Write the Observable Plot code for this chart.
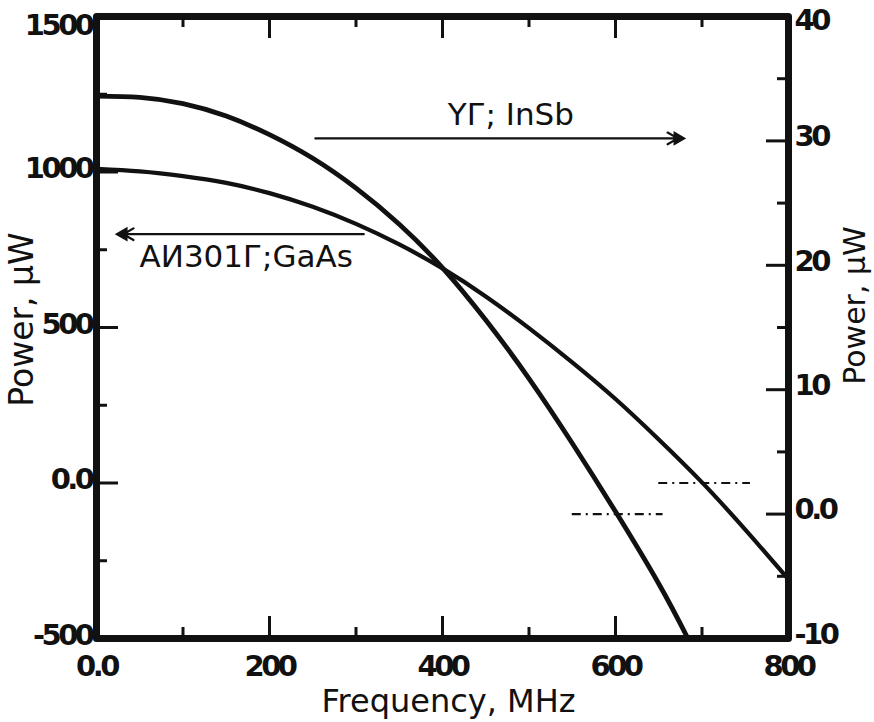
<!DOCTYPE html>
<html><head><meta charset="utf-8">
<script src="https://cdn.jsdelivr.net/npm/d3@7"></script>
<script src="https://cdn.jsdelivr.net/npm/@observablehq/plot@0.6"></script>
<style>
html,body{margin:0;padding:0;background:#fff;}
#chart svg{display:block;}
g[aria-label$="tick label"]{letter-spacing:-3.5px;}
</style></head><body><div id="chart"></div>
<script>
// GaAs (АИ301Г) curve — left axis, µW
const freqGaAs  = [0, 50, 100, 150, 200, 250, 300, 350, 400, 450, 500, 550, 600, 650, 700, 750, 800];
const powerGaAs = [1010, 1002, 987, 965, 932, 888, 833, 767, 690, 600, 498, 388, 270, 140, 2, -150, -310];
// InSb (YГ) curve — right axis, µW
const freqInSb  = [0, 50, 100, 150, 200, 250, 300, 350, 400, 450, 500, 550, 600, 650, 683];
const powerInSb = [33.6, 33.5, 33.0, 32.0, 30.5, 28.6, 26.2, 23.3, 19.8, 15.6, 10.9, 5.7, 0.2, -5.6, -9.9];

// axes
const xTicks = [0, 200, 400, 600, 800];
const xTickLabels = ["0.0", "200", "400", "600", "800"];
const xMinorTicks = [100, 300, 500, 700];
const leftTicks = [-500, 0, 500, 1000, 1500];
const leftTickLabels = ["-500", "0.0", "500", "1000", "1500"];
const leftMinorTicks = [-250, 250, 750, 1250];
const rightTicks = [-10, 0, 10, 20, 30, 40];
const rightTickLabels = ["-10", "0.0", "10", "20", "30", "40"];
const rightMinorTicks = [-5, 5, 15, 25, 35];
const axisTitleY = "Power, µW";
const axisTitleX = "Frequency, MHz";

// zero reference lines (dash-dot): axis, level, from MHz, to MHz
const refAxis  = ["left", "right"];
const refLevel = [0, 0];
const refFrom  = [650, 550];
const refTo    = [756, 655];

// annotations
const annoText  = ["YГ; InSb", "АИ301Г;GaAs"];
const annoAxis  = ["right", "left"];
const annoX     = [479, 173];
const annoY     = [32.1, 728];
const arrowAxis = ["right", "left"];
const arrowFrom = [253, 309];
const arrowTo   = [672, 31];
const arrowLevel= [30.2, 800];

// right-axis (-10..40) to left-axis (-500..1500) units
const rightToLeft = r => (r + 10) * 40 - 500;
const toLeft = (axis, v) => axis === "right" ? rightToLeft(v) : v;

const gaas = freqGaAs.map((f, i) => ({f, p: powerGaAs[i]}));
const insb = freqInSb.map((f, i) => ({f, p: rightToLeft(powerInSb[i])}));
const refs = refAxis.map((a, i) => ({y: toLeft(a, refLevel[i]), x1: refFrom[i], x2: refTo[i]}));
const annos = annoText.map((t, i) => ({t, x: annoX[i], y: toLeft(annoAxis[i], annoY[i])}));
const arrows = arrowAxis.map((a, i) => ({x1: arrowFrom[i], x2: arrowTo[i], y: toLeft(a, arrowLevel[i]), dir: arrowTo[i] > arrowFrom[i] ? 90 : -90}));
const rightTicksL = rightTicks.map(rightToLeft);
const rightMinorL = rightMinorTicks.map(rightToLeft);
const topLeft = leftTicks.slice(-1), restLeft = leftTicks.slice(0, -1);
const topRight = rightTicksL.slice(-1), restRight = rightTicksL.slice(0, -1);

const W = 874, H = 722, mL = 96, mR = 86, mT = 16, mB = 84;
const pw = W - mL - mR, ph = H - mT - mB;
const major = 22, minor = 11;
const ink = "#111";
const tickFont = {fontSize: 29, fontWeight: "bold", fontFamily: "'DejaVu Sans', sans-serif"};
const fmtLeft = d => leftTickLabels[leftTicks.indexOf(d)];
const fmtRight = d => rightTickLabels[rightTicksL.indexOf(d)];

const chart = Plot.plot({
  width: W, height: H,
  marginLeft: mL, marginRight: mR, marginTop: mT, marginBottom: mB,
  x: {domain: [0, 800]},
  y: {domain: [-500, 1500]},
  style: {fontFamily: "'DejaVu Sans', sans-serif", color: ink, background: "#fff"},
  marks: [
    Plot.line(gaas, {x: "f", y: "p", curve: "natural", stroke: ink, strokeWidth: 4.2}),
    Plot.line(insb, {x: "f", y: "p", curve: "natural", stroke: ink, strokeWidth: 4.8}),
    Plot.ruleY(refs, {y: "y", x1: "x1", x2: "x2", stroke: ink, strokeWidth: 2.2, strokeDasharray: "9,5,2,5"}),
    Plot.arrow(arrows, {x1: "x1", x2: "x2", y1: "y", y2: "y", stroke: ink, strokeWidth: 2.2, headLength: 8}),
    Plot.dot(arrows, {x: "x2", y: "y", symbol: "triangle", rotate: "dir", r: 4.5, fill: ink, stroke: ink}),
    Plot.text(annos, {x: "x", y: "y", text: "t", fontSize: 31, fill: ink}),
    // inward ticks
    Plot.tickY(leftTicks, {y: d => d, insetRight: pw - major, stroke: ink, strokeWidth: 3}),
    Plot.tickY(leftMinorTicks, {y: d => d, insetRight: pw - minor, stroke: ink, strokeWidth: 3}),
    Plot.tickY(rightTicksL, {y: d => d, insetLeft: pw - major, stroke: ink, strokeWidth: 3}),
    Plot.tickY(rightMinorL, {y: d => d, insetLeft: pw - minor, stroke: ink, strokeWidth: 3}),
    Plot.tickX(xTicks, {x: d => d, insetTop: ph - major, stroke: ink, strokeWidth: 3}),
    Plot.tickX(xMinorTicks, {x: d => d, insetTop: ph - minor, stroke: ink, strokeWidth: 3}),
    Plot.tickX(xTicks, {x: d => d, insetBottom: ph - major, stroke: ink, strokeWidth: 3}),
    Plot.tickX(xMinorTicks, {x: d => d, insetBottom: ph - minor, stroke: ink, strokeWidth: 3}),
    // tick labels
    Plot.axisX({ticks: xTicks, tickSize: 0, tickPadding: 17, label: null,
      tickFormat: d => xTickLabels[xTicks.indexOf(d)], ...tickFont}),
    Plot.axisY({anchor: "left", ticks: restLeft, tickSize: 0, tickPadding: 5, label: null, dy: -3,
      tickFormat: fmtLeft, ...tickFont}),
    Plot.axisY({anchor: "left", ticks: topLeft, tickSize: 0, tickPadding: 5, label: null, dy: 9,
      tickFormat: fmtLeft, ...tickFont}),
    Plot.axisY({anchor: "right", ticks: restRight, tickSize: 0, tickPadding: 6, label: null, dy: -4,
      tickFormat: fmtRight, ...tickFont}),
    Plot.axisY({anchor: "right", ticks: topRight, tickSize: 0, tickPadding: 6, label: null, dy: 4,
      tickFormat: fmtRight, ...tickFont}),
    // axis titles
    Plot.text([axisTitleY], {frameAnchor: "left", dx: -74, dy: -8, rotate: -90, textAnchor: "middle", lineAnchor: "middle", fontSize: 33, fill: ink}),
    Plot.text([axisTitleY], {frameAnchor: "right", dx: 67, dy: -22, rotate: -90, textAnchor: "middle", lineAnchor: "middle", fontSize: 30, fill: ink}),
    Plot.text([axisTitleX], {frameAnchor: "bottom", dx: 6, dy: 63, textAnchor: "middle", lineAnchor: "middle", fontSize: 32, fill: ink}),
    Plot.frame({stroke: ink, strokeWidth: 7, strokeLinejoin: "round"})
  ]
});
document.getElementById("chart").appendChild(chart);
</script>
</body></html>
